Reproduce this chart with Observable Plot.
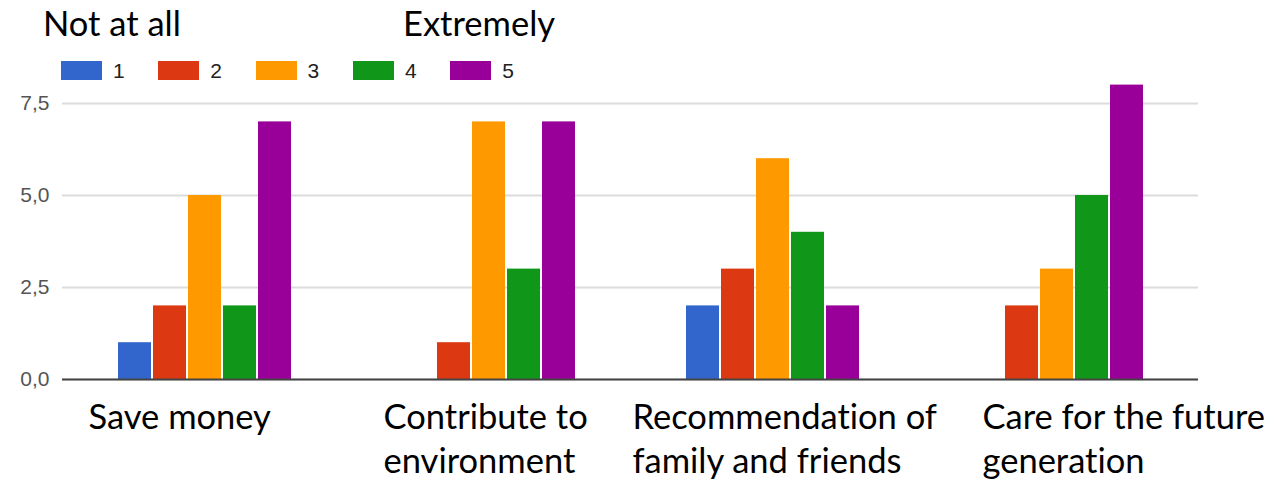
<!DOCTYPE html>
<html>
<head>
<meta charset="utf-8">
<script src="https://cdn.jsdelivr.net/npm/d3@7"></script>
<script src="https://cdn.jsdelivr.net/npm/@observablehq/plot@0.6"></script>
<style>
  html, body { margin: 0; padding: 0; background: #fff; }
  #page { width: 1268px; height: 482px; position: relative; overflow: hidden; }
  #header { position: relative; width: 1268px; height: 90px; }
  .scale-title { position: absolute; font-family: Lato, sans-serif; font-size: 34.5px; line-height: 36px; color: #000; white-space: nowrap; font-variant-ligatures: none; }
  #legend { position: absolute; left: 61px; top: 61px; display: flex; font-family: "Liberation Sans", Arial, sans-serif; font-size: 21px; color: #222; }
  .item { width: 97.3px; display: flex; align-items: center; height: 19px; }
  .sw { width: 41px; height: 19px; margin-right: 11px; }
  #chart svg text { font-variant-ligatures: none; }
</style>
</head>
<body>
<div id="page">
  <div id="header">
    <div class="scale-title" id="tLow" style="left:43px; top:5px;"></div>
    <div class="scale-title" id="tHigh" style="left:403px; top:5px;"></div>
    <div id="legend"></div>
  </div>
  <div id="chart"></div>
</div>
<script>
// ---- data ----
const categories = ["Save money", "Contribute to environment", "Recommendation of family and friends", "Care for the future generation"];
const categoryLabels = ["Save money", "Contribute to\nenvironment", "Recommendation of\nfamily and friends", "Care for the future\ngeneration"];
const levels = ["1", "2", "3", "4", "5"];
const level1 = [1, 0, 2, 0];
const level2 = [2, 1, 3, 2];
const level3 = [5, 7, 6, 3];
const level4 = [2, 3, 4, 5];
const level5 = [7, 7, 2, 8];
const yTicks = [0, 2.5, 5, 7.5];
const scaleTitles = ["Not at all", "Extremely"];
const colors = ["#3366cc", "#dc3912", "#ff9900", "#109618", "#990099"];

const series = [level1, level2, level3, level4, level5];
const rows = categories.flatMap((c, i) => levels.map((l, j) => ({category: c, level: l, value: series[j][i]})));
const labelRows = categories.map((c, i) => ({category: c, label: categoryLabels[i]}));

// header
document.getElementById("tLow").textContent = scaleTitles[0];
document.getElementById("tHigh").textContent = scaleTitles[1];
const legend = document.getElementById("legend");
levels.forEach((l, j) => {
  const it = document.createElement("div");
  it.className = "item";
  const sw = document.createElement("div");
  sw.className = "sw";
  sw.style.background = colors[j];
  const tx = document.createElement("span");
  tx.textContent = l;
  it.appendChild(sw); it.appendChild(tx);
  legend.appendChild(it);
});

const labelDx = [26, 37, 2, 68];
const fmt = d => d.toFixed(1).replace(".", ",");

const chart = Plot.plot({
  width: 1268,
  height: 392,
  marginTop: 13,
  marginBottom: 103,
  marginLeft: 62,
  marginRight: 70,
  style: {background: "transparent", overflow: "visible"},
  fx: {domain: categories, padding: 0, axis: null},
  x: {domain: levels, paddingInner: 0, paddingOuter: 1.5, axis: null},
  y: {domain: [0, 7.5], axis: null},
  color: {domain: levels, range: colors},
  marks: [
    Plot.gridY(yTicks, {stroke: "#dcdcdc", strokeOpacity: 1, strokeWidth: 2}),
    Plot.axisY(yTicks, {tickSize: 0, tickPadding: 13, tickFormat: fmt, fontSize: 21, fontFamily: "Liberation Sans, Arial, sans-serif", fill: "#555", label: null}),
    Plot.barY(rows, {fx: "category", x: "level", y: "value", fill: "level", insetLeft: 1, insetRight: 1}),
    Plot.ruleY([0], {stroke: "#444", strokeWidth: 2}),
    ...labelRows.map((r, i) => Plot.text([r], {
      fx: "category", text: "label",
      frameAnchor: "bottom-left", textAnchor: "start", lineAnchor: "top",
      dx: labelDx[i], dy: 19, lineHeight: 1.26,
      fontSize: 34.5, fontFamily: "Lato, sans-serif", fill: "#000"
    }))
  ]
});
document.getElementById("chart").appendChild(chart);
</script>
</body>
</html>
